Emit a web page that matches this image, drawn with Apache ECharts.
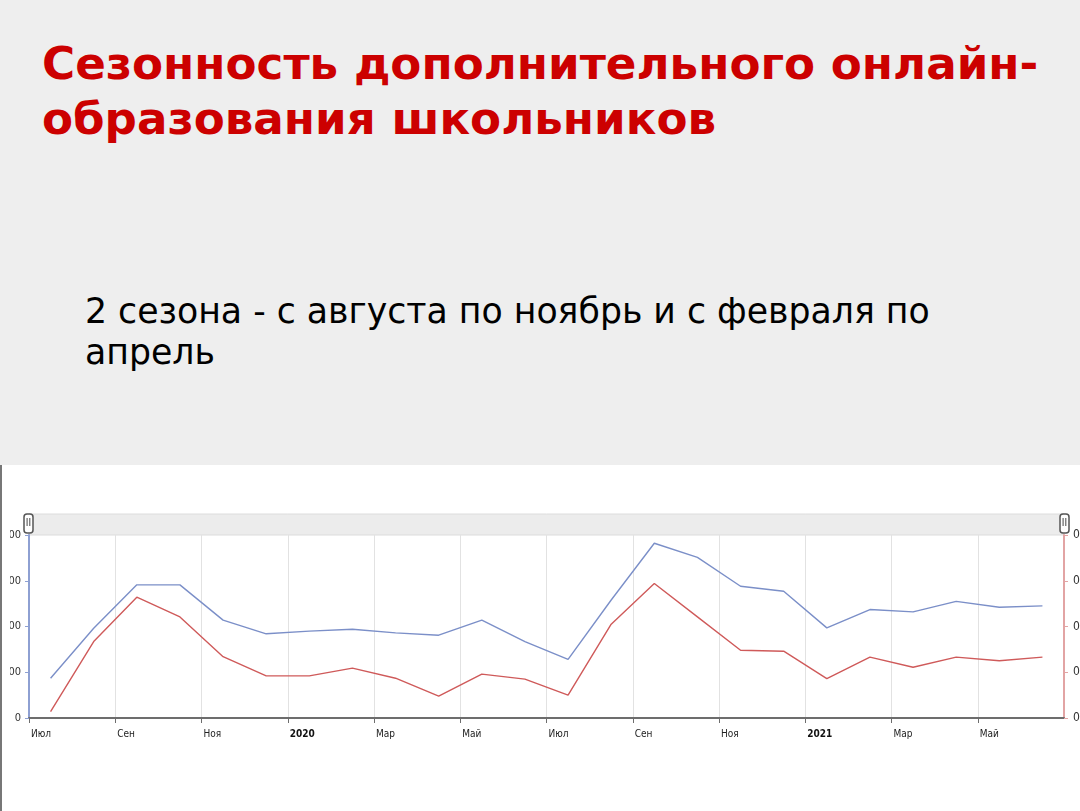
<!DOCTYPE html>
<html lang="ru">
<head>
	<meta charset="UTF-8">
	<title>Сезонность дополнительного онлайн-образования школьников</title>
	<style>
		body { margin: 0; width: 1080px; height: 811px; overflow: hidden; background: #fff; position: relative; font-family: "DejaVu Sans", sans-serif; }
		#top { position: absolute; left: 0; top: 0; width: 1080px; height: 465px; background: #eeeeee; }
		#title { position: absolute; left: 42px; top: 36px; margin: 0; font-size: 45.2px; line-height: 55px; font-weight: bold; color: #cc0000; white-space: nowrap; }
		#sub { position: absolute; left: 85px; top: 291px; margin: 0; font-size: 34.7px; line-height: 41px; color: #000; white-space: nowrap; }
		#border { position: absolute; left: 0; top: 465px; width: 2px; height: 346px; background: #777; }
		#main { position: absolute; left: 10px; top: 465px; width: 1070px; height: 346px; }
	</style>
</head>
<body>
	<div id="top">
		<p id="title">Сезонность дополнительного онлайн-<br>образования школьников</p>
		<p id="sub">2 сезона - с августа по ноябрь и с февраля по<br>апрель</p>
	</div>
	<div id="border"></div>
	<div id="main"></div>

	<script src="https://cdn.jsdelivr.net/npm/echarts@6/dist/echarts.min.js"></script>
	<script type="text/javascript">

	// месяцы: июль 2019 - июнь 2021
	var months = ['2019-07','2019-08','2019-09','2019-10','2019-11','2019-12',
	              '2020-01','2020-02','2020-03','2020-04','2020-05','2020-06',
	              '2020-07','2020-08','2020-09','2020-10','2020-11','2020-12',
	              '2021-01','2021-02','2021-03','2021-04','2021-05','2021-06'];

	// синяя линия (левая ось)
	var blueVals = [87, 196, 291, 291, 214, 184, 190, 194, 186, 181, 214, 167,
	                128, 258, 382, 351, 288, 277, 197, 237, 232, 255, 242, 245];

	// красная линия (правая ось)
	var redVals = [14, 167, 264, 221, 134, 92, 92, 109, 87, 48, 96, 85,
	               50, 205, 294, 221, 148, 146, 86, 133, 111, 133, 125, 133];

	// подписи оси X (через каждые 2 месяца)
	var xLabels = ['Июл','Сен','Ноя','2020','Мар','Май','Июл','Сен','Ноя','2021','Мар','Май'];
	var leftLabels = ['0','500','1 000','1 500','2 000'];
	var rightLabels = ['0','0,000010','0,000020','0,000030','0,000040'];

	var blueData = [], redData = [];
	for (var i = 0; i < months.length; i++) {
		blueData.push([i + 0.5, blueVals[i]]);   // точка в середине месяца
		redData.push([i + 0.5, redVals[i]]);
	}

	var G_LEFT = 19, G_RIGHT = 16, G_TOP = 70, G_H = 183;
	var W = 1070;

	var myChart = echarts.init(document.getElementById('main'));

	var option = {
		animation: false,
		backgroundColor: '#fff',
		textStyle: { fontFamily: 'DejaVu Sans Condensed, DejaVu Sans, sans-serif' },
		grid: { left: G_LEFT, right: G_RIGHT, top: G_TOP, height: G_H, containLabel: false, outerBoundsMode: 'none' },
		xAxis: {
			type: 'value',
			min: 0,
			max: 24,
			interval: 2,
			axisLine: { show: true, lineStyle: { color: '#6d6d6d', width: 2 } },
			axisTick: { show: true, length: 5, lineStyle: { color: '#6d6d6d' } },
			splitLine: { show: true, lineStyle: { color: '#e2e2e2', width: 1 } },
			axisLabel: {
				showMaxLabel: false,
				align: 'left',
				margin: 11,
				padding: [0, 0, 0, 2],
				fontSize: 10,
				color: '#222',
				formatter: function (v) {
					var s = xLabels[v / 2];
					if (s === undefined) return '';
					return /^\d+$/.test(s) ? '{b|' + s + '}' : s;
				},
				rich: { b: { fontWeight: 'bold', fontSize: 10, color: '#111' } }
			}
		},
		yAxis: [{
			type: 'value',
			min: 0, max: 400, interval: 100,
			position: 'left',
			axisLine: { show: true, lineStyle: { color: '#8ea0d2', width: 2 } },
			axisTick: { show: true, length: 4, lineStyle: { color: '#8ea0d2' } },
			splitLine: { show: false },
			axisLabel: {
				margin: 8, fontSize: 11, color: '#333',
				formatter: function (v) { return leftLabels[v / 100]; }
			}
		}, {
			type: 'value',
			min: 0, max: 400, interval: 100,
			position: 'right',
			axisLine: { show: true, lineStyle: { color: '#e2a4a4', width: 2 } },
			axisTick: { show: true, length: 4, lineStyle: { color: '#e2a4a4' } },
			splitLine: { show: false },
			axisLabel: {
				margin: 9, fontSize: 12, color: '#333',
				formatter: function (v) { return rightLabels[v / 100]; }
			}
		}],
		series: [{
			name: 'blue',
			type: 'line',
			yAxisIndex: 0,
			data: blueData,
			showSymbol: false,
			lineStyle: { color: '#7b8fc8', width: 1.4 },
			itemStyle: { color: '#7b8fc8' },
			z: 3
		}, {
			name: 'red',
			type: 'line',
			yAxisIndex: 1,
			data: redData,
			showSymbol: false,
			lineStyle: { color: '#cf5a5a', width: 1.4 },
			itemStyle: { color: '#cf5a5a' },
			z: 2
		}],
		// полоса прокрутки сверху (как на скриншоте)
		graphic: [{
			type: 'rect',
			shape: { x: G_LEFT, y: G_TOP - 21, width: W - G_LEFT - G_RIGHT, height: 21 },
			style: { fill: '#ececec', stroke: '#dcdcdc', lineWidth: 1 },
			z: 0
		}, {
			type: 'rect',
			shape: { x: G_LEFT - 5, y: G_TOP - 21, width: 9, height: 19, r: 3 },
			style: { fill: '#fff', stroke: '#555', lineWidth: 1.5 },
			z: 10
		}, {
			type: 'text',
			x: G_LEFT - 0.5, y: G_TOP - 11.5,
			style: { text: 'II', fill: '#333', fontSize: 10, align: 'center', verticalAlign: 'middle', fontFamily: 'DejaVu Sans Condensed' },
			z: 11
		}, {
			type: 'rect',
			shape: { x: W - G_RIGHT - 4, y: G_TOP - 21, width: 9, height: 19, r: 3 },
			style: { fill: '#fff', stroke: '#555', lineWidth: 1.5 },
			z: 10
		}, {
			type: 'text',
			x: W - G_RIGHT + 0.5, y: G_TOP - 11.5,
			style: { text: 'II', fill: '#333', fontSize: 10, align: 'center', verticalAlign: 'middle', fontFamily: 'DejaVu Sans Condensed' },
			z: 11
		}]
	};
	myChart.setOption(option);
	</script>
</body>
</html>
